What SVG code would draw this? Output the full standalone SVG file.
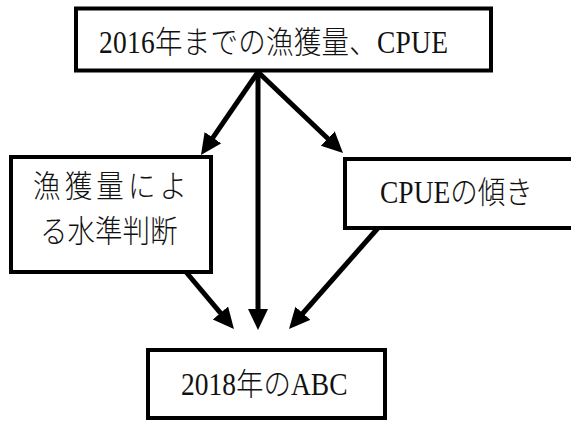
<svg xmlns="http://www.w3.org/2000/svg" width="571" height="422" viewBox="0 0 571 422">
<style>
.box{fill:#fff;stroke:#000;stroke-width:4}
.t{font-family:"Liberation Serif","Noto Sans CJK JP",serif;font-size:27.5px;font-weight:300;fill:#111}
.c{fill:none;stroke:#000;stroke-width:5}
</style>
<defs>
<marker id="ah" markerUnits="userSpaceOnUse" markerWidth="24" markerHeight="22" refX="13" refY="10" orient="auto">
<path d="M0,0 L21,10 L0,20 Z" fill="#000"/>
</marker>
</defs>
<rect width="571" height="422" fill="#fff"/>
<g id="connectors">
<path class="c" d="M258,72 L205.5,148.4" marker-end="url(#ah)"/>
<path class="c" d="M258,72 L337.2,147.5" marker-end="url(#ah)"/>
<path class="c" d="M258,72 L258,322" marker-end="url(#ah)"/>
<path class="c" d="M186,272 L228.8,322.9" marker-end="url(#ah)"/>
<path class="c" d="M378,228 L294.3,323" marker-end="url(#ah)"/>
</g>
<g id="top">
<rect class="box" x="76" y="8.5" width="415" height="62"/>
<text class="t" transform="translate(99,53) scale(1,1.12)" textLength="349" lengthAdjust="spacing">2016年までの漁獲量、CPUE</text>
</g>
<g id="left">
<rect class="box" x="11" y="157" width="200" height="115"/>
<text class="t" transform="translate(33,197) scale(1,1.12)" font-size="26" textLength="154" lengthAdjust="spacing">漁獲量によ</text>
<text class="t" transform="translate(40,242) scale(1,1.12)" font-size="26">る水準判断</text>
</g>
<g id="right">
<rect class="box" x="345" y="159" width="240" height="69"/>
<text class="t" transform="translate(380,203) scale(1,1.12)">CPUEの傾き</text>
</g>
<g id="bottom">
<rect class="box" x="148" y="350" width="237" height="68"/>
<text class="t" transform="translate(181,395) scale(1,1.12)">2018年のABC</text>
</g>
</svg>
